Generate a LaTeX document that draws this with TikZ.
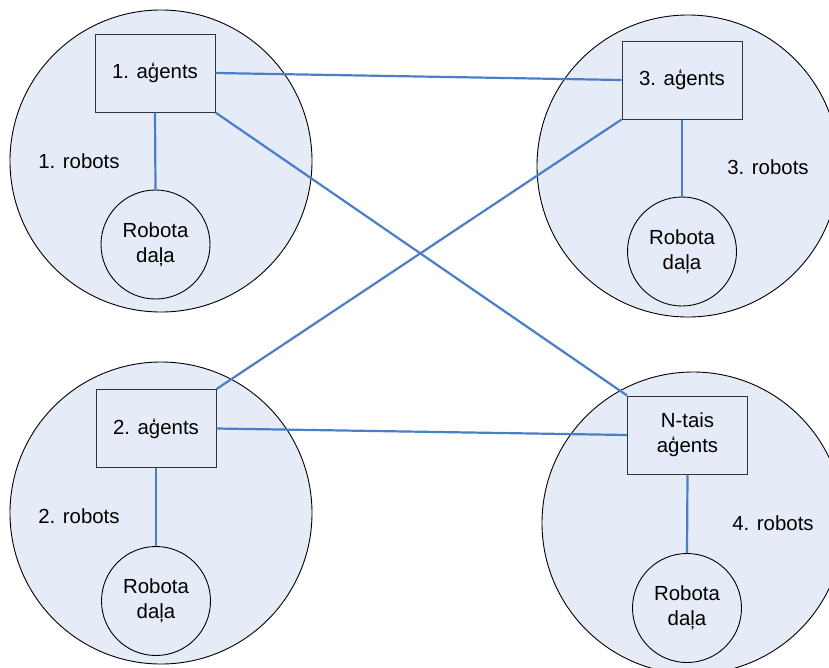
\documentclass[tikz,border=0pt]{standalone}
\usepackage{fontspec}
\setmainfont{Liberation Sans}
\begin{document}
\begin{tikzpicture}[x=1pt,y=-1pt,
  robotarea/.style={circle, draw=black, line width=0.9pt, fill=areafill, minimum size=302pt, inner sep=0pt},
  agentbox/.style={rectangle, draw=black!80, line width=1pt, fill=areafill, minimum width=120pt, minimum height=78pt, align=center, font=\fontsize{20.4}{25}\selectfont},
  partnode/.style={circle, draw=black, line width=0.9pt, fill=areafill, minimum size=109pt, inner sep=0pt, align=center, font=\fontsize{20.4}{25}\selectfont},
  arealabel/.style={font=\fontsize{20.4}{25}\selectfont},
  link/.style={draw=linkblue, line width=2.2pt}]
\definecolor{areafill}{RGB}{230,236,247}
\definecolor{linkblue}{RGB}{74,126,199}
\clip (0,0) rectangle (829,667);
\fill[white] (0,0) rectangle (829,667);

% robot areas
\node[robotarea] (g1) at (161,161) {};
\node[robotarea] (g3) at (688,166) {};
\node[robotarea] (g2) at (161,513) {};
\node[robotarea] (g4) at (693,523) {};

% area labels
\node[arealabel] (l1) at (79,161) {1. robots};
\node[arealabel] (l3) at (768,167) {3. robots};
\node[arealabel] (l2) at (79,516) {2. robots};
\node[arealabel] (l4) at (773,523) {4. robots};

% agents
\node[agentbox] (a1) at (155,73) {1. aģents};
\node[agentbox] (a3) at (682,80) {3. aģents};
\node[agentbox] (a2) at (156,428.5) {2. aģents};
\node[agentbox] (a4) at (687.5,435) {N-tais\\aģents};

% robot parts
\node[partnode] (r1) at (155.5,244.5) {Robota\\daļa};
\node[partnode] (r3) at (682,251.5) {Robota\\daļa};
\node[partnode] (r2) at (156,601) {Robota\\daļa};
\node[partnode] (r4) at (687,608) {Robota\\daļa};

% agent to part
\draw[link] (a1.south) -- (r1.north);
\draw[link] (a3.south) -- (r3.north);
\draw[link] (a2.south) -- (r2.north);
\draw[link] (a4.south) -- (r4.north);

% agent to agent
\draw[link] (a1.east) -- (a3.west);
\draw[link] (a2.east) -- (a4.west);
\draw[link] (a1.south east) -- (a4.north west);
\draw[link] (a3.south west) -- (a2.north east);
\end{tikzpicture}
\end{document}
